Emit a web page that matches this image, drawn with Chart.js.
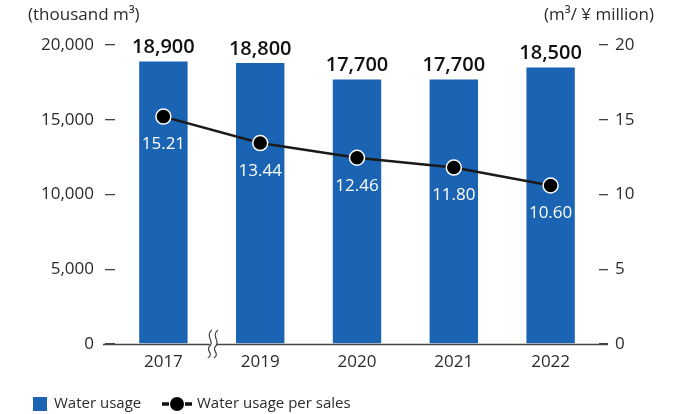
<!DOCTYPE html>
<html>
<head>
<meta charset="utf-8">
<script src="https://cdn.jsdelivr.net/npm/chart.js@4/dist/chart.umd.min.js"></script>
<style>
  html, body { margin: 0; padding: 0; background: #fff; }
  #wrap { width: 675px; height: 414px; }
</style>
</head>
<body>
<div id="wrap"><canvas id="c" width="675" height="414"></canvas></div>
<script>
const categories = ['2017', '2019', '2020', '2021', '2022'];
const waterUsage = [18900, 18800, 17700, 17700, 18500];
const usagePerSales = [15.21, 13.44, 12.46, 11.80, 10.60];
const leftTicks = [0, 5000, 10000, 15000, 20000];
const rightTicks = [0, 5, 10, 15, 20];
const seriesNames = ['Water usage', 'Water usage per sales'];
const axisTitles = ['(thousand m³)', '(m³/ ¥ million)'];

const BAR_COLOR = '#1b63b3';
const FONT = '"Open Sans", "Noto Sans", sans-serif';
const TEXT = '#2b2b2b';

const labelsPlugin = {
  id: 'labels',
  afterDatasetsDraw(chart) {
    const ctx = chart.ctx;
    ctx.save();
    const barMeta = chart.getDatasetMeta(0);
    ctx.font = '600 20px ' + FONT;
    ctx.fillStyle = '#111';
    ctx.textAlign = 'center';
    ctx.textBaseline = 'bottom';
    barMeta.data.forEach((el, i) => {
      ctx.fillText(waterUsage[i].toLocaleString('en-US'), el.x, el.y - 4);
    });
    const lineMeta = chart.getDatasetMeta(1);
    ctx.font = '17px ' + FONT;
    ctx.fillStyle = '#fff';
    ctx.textBaseline = 'middle';
    lineMeta.data.forEach((el, i) => {
      ctx.fillText(usagePerSales[i].toFixed(2), el.x, el.y + 28);
    });
    ctx.restore();
  },
  afterDraw(chart) {
    const ctx = chart.ctx;
    const x = chart.scales.x, y = chart.scales.y;
    ctx.save();
    // axis titles
    ctx.font = '17px ' + FONT;
    ctx.fillStyle = TEXT;
    ctx.textBaseline = 'middle';
    ctx.textAlign = 'left';
    ctx.fillText(axisTitles[0], 28, 15);
    ctx.textAlign = 'right';
    ctx.fillText(axisTitles[1], 654, 15);

    // extend baseline to left/right tick ends
    const by = y.getPixelForValue(0);
    ctx.strokeStyle = '#444';
    ctx.lineWidth = 1.3;
    ctx.beginPath();
    ctx.moveTo(103, Math.round(by) + 0.5);
    ctx.lineTo(608, Math.round(by) + 0.5);
    ctx.stroke();

    // break marker
    const bx = (x.getPixelForValue(0) + x.getPixelForValue(1)) / 2 + 1;
    ctx.fillStyle = '#fff';
    ctx.fillRect(bx - 3, by - 3, 6, 6);
    ctx.strokeStyle = '#444';
    ctx.lineWidth = 1.2;
    [-3, 3].forEach(dx => {
      ctx.beginPath();
      const cx = bx + dx;
      ctx.moveTo(cx + 2, by - 14);
      ctx.bezierCurveTo(cx - 5, by - 8, cx + 5, by - 2, cx, by + 2);
      ctx.bezierCurveTo(cx - 5, by + 6, cx + 5, by + 10, cx - 2, by + 14);
      ctx.stroke();
    });

    // legend
    const ly = 404;
    ctx.fillStyle = BAR_COLOR;
    ctx.fillRect(33, ly - 7, 14, 14);
    ctx.font = '15px ' + FONT;
    ctx.fillStyle = TEXT;
    ctx.textAlign = 'left';
    ctx.textBaseline = 'middle';
    ctx.fillText(chart.data.datasets[0].label, 54, ly);
    ctx.strokeStyle = '#111';
    ctx.lineWidth = 3.5;
    ctx.beginPath(); ctx.moveTo(162, ly); ctx.lineTo(169, ly); ctx.stroke();
    ctx.beginPath(); ctx.moveTo(185, ly); ctx.lineTo(192, ly); ctx.stroke();
    ctx.fillStyle = '#000';
    ctx.beginPath(); ctx.arc(177, ly, 7, 0, Math.PI * 2); ctx.fill();
    ctx.fillStyle = TEXT;
    ctx.fillText(chart.data.datasets[1].label, 197, ly);
    ctx.restore();
  }
};

new Chart(document.getElementById('c'), {
  data: {
    labels: categories,
    datasets: [
      {
        type: 'bar',
        label: seriesNames[0],
        data: waterUsage,
        backgroundColor: BAR_COLOR,
        yAxisID: 'y',
        barPercentage: 0.5,
        categoryPercentage: 1.0,
        order: 2
      },
      {
        type: 'line',
        label: seriesNames[1],
        data: usagePerSales,
        yAxisID: 'y2',
        borderColor: '#1a1a1a',
        borderWidth: 2.5,
        pointRadius: 7.5,
        pointBackgroundColor: '#000',
        pointBorderColor: '#fff',
        pointBorderWidth: 1.5,
        tension: 0,
        order: 1
      }
    ]
  },
  options: {
    responsive: false,
    animation: false,
    devicePixelRatio: 1,
    layout: { padding: { top: 45, left: 0, right: 0, bottom: 0 } },
    plugins: { legend: { display: false }, tooltip: { enabled: false } },
    scales: {
      x: {
        grid: { display: false },
        border: { display: false },
        ticks: { color: TEXT, font: { family: FONT, size: 17 }, padding: 0 },
        afterFit(s) { s.height = 70; }
      },
      y: {
        position: 'left',
        min: 0, max: 20000,
        afterBuildTicks(s) { s.ticks = leftTicks.map(v => ({ value: v })); },
        grid: { drawOnChartArea: false, drawTicks: true, tickLength: 10, color: '#444', lineWidth: 1.3 },
        border: { display: false },
        ticks: {
          color: TEXT, font: { family: FONT, size: 17 }, padding: 11,
          callback: v => v.toLocaleString('en-US')
        },
        afterFit(s) { s.width = 115; }
      },
      y2: {
        position: 'right',
        min: 0, max: 20,
        afterBuildTicks(s) { s.ticks = rightTicks.map(v => ({ value: v })); },
        grid: { drawOnChartArea: false, drawTicks: true, tickLength: 9, color: '#444', lineWidth: 1.3 },
        border: { display: false },
        ticks: { color: TEXT, font: { family: FONT, size: 17 }, padding: 7 },
        afterFit(s) { s.width = 76; }
      }
    }
  },
  plugins: [labelsPlugin]
});
</script>
</body>
</html>
